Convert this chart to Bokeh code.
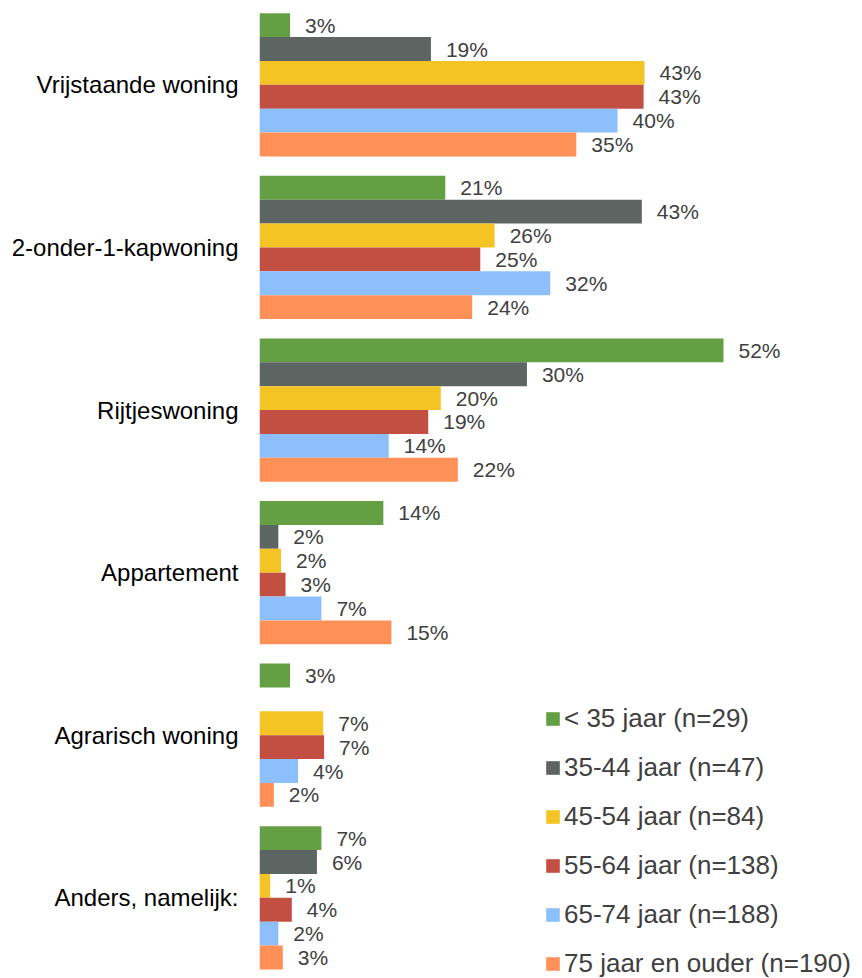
import numpy as np
from bokeh.plotting import figure
from bokeh.models import Range1d, FixedTicker, Legend, LegendItem, ColumnDataSource
from bokeh.core.properties import value
from bokeh.embed import file_html
from bokeh.resources import INLINE

categories = ["Vrijstaande woning", "2-onder-1-kapwoning", "Rijtjeswoning",
              "Appartement", "Agrarisch woning", "Anders, namelijk:"]
series = ["< 35 jaar (n=29)", "35-44 jaar (n=47)", "45-54 jaar (n=84)",
          "55-64 jaar (n=138)", "65-74 jaar (n=188)", "75 jaar en ouder (n=190)"]
colors = ["#64A043", "#5C6562", "#F4C425", "#C34F42", "#8DBFFC", "#FF9058"]

v_lt35 = [3.4, 20.7, 51.7, 13.8, 3.4, 6.9]
v_35_44 = [19.1, 42.6, 29.8, 2.1, 0.0, 6.4]
v_45_54 = [42.9, 26.2, 20.2, 2.4, 7.1, 1.2]
v_55_64 = [42.8, 24.6, 18.8, 2.9, 7.2, 3.6]
v_65_74 = [39.9, 32.4, 14.4, 6.9, 4.3, 2.1]
v_75plus = [35.3, 23.7, 22.1, 14.7, 1.6, 2.6]
all_values = [v_lt35, v_35_44, v_45_54, v_55_64, v_65_74, v_75plus]

FONT = "Liberation Sans"
n_cat = len(categories)
n_ser = len(series)
cat_pos = np.arange(n_cat)[::-1].astype(float)   # first category on top
group_half = 0.4405
bar_h = 2 * group_half / n_ser

p = figure(width=862, height=978, output_backend="svg", toolbar_location=None,
           x_range=Range1d(0, 67.19), y_range=Range1d(-0.496, 5.5186),
           min_border_left=259, min_border_right=0, min_border_top=0, min_border_bottom=0)
p.outline_line_color = None
p.grid.visible = False
p.xaxis.visible = False
p.background_fill_color = "white"
p.border_fill_color = "white"

yax = p.yaxis[0]
yax.ticker = FixedTicker(ticks=list(cat_pos))
yax.major_label_overrides = {float(pos): c for pos, c in zip(cat_pos, categories)}
yax.axis_line_color = None
yax.major_tick_line_color = None
yax.minor_tick_line_color = None
yax.major_tick_out = 0
yax.major_tick_in = 0
yax.major_label_standoff = 21
yax.major_label_text_font = FONT
yax.major_label_text_font_size = "24px"
yax.major_label_text_color = "#000000"

items = []
for j, (name, vals, col) in enumerate(zip(series, all_values, colors)):
    ys = cat_pos + group_half - (j + 0.5) * bar_h
    labels = [f"{v:.0f}%" if v > 0 else "" for v in vals]
    src = ColumnDataSource(dict(y=ys, v=vals, lab=labels))
    r = p.hbar(y="y", right="v", left=0, height=bar_h, source=src,
               fill_color=col, line_color=None)
    p.text(x="v", y="y", text="lab", source=src, x_offset=15,
           text_baseline="middle", text_align="left",
           text_font=value(FONT), text_font_size="21px", text_color="#404040")
    items.append(LegendItem(label=name, renderers=[r]))

legend = Legend(items=items, location=(285, -1), orientation="vertical",
                glyph_width=17, glyph_height=17, label_standoff=3,
                label_height=24, spacing=18, padding=0, margin=0,
                border_line_color=None, background_fill_alpha=0,
                label_text_font=FONT, label_text_font_size="26px",
                label_text_color="#404040")
p.add_layout(legend)

open("out.html", "w").write(file_html(p, INLINE))
